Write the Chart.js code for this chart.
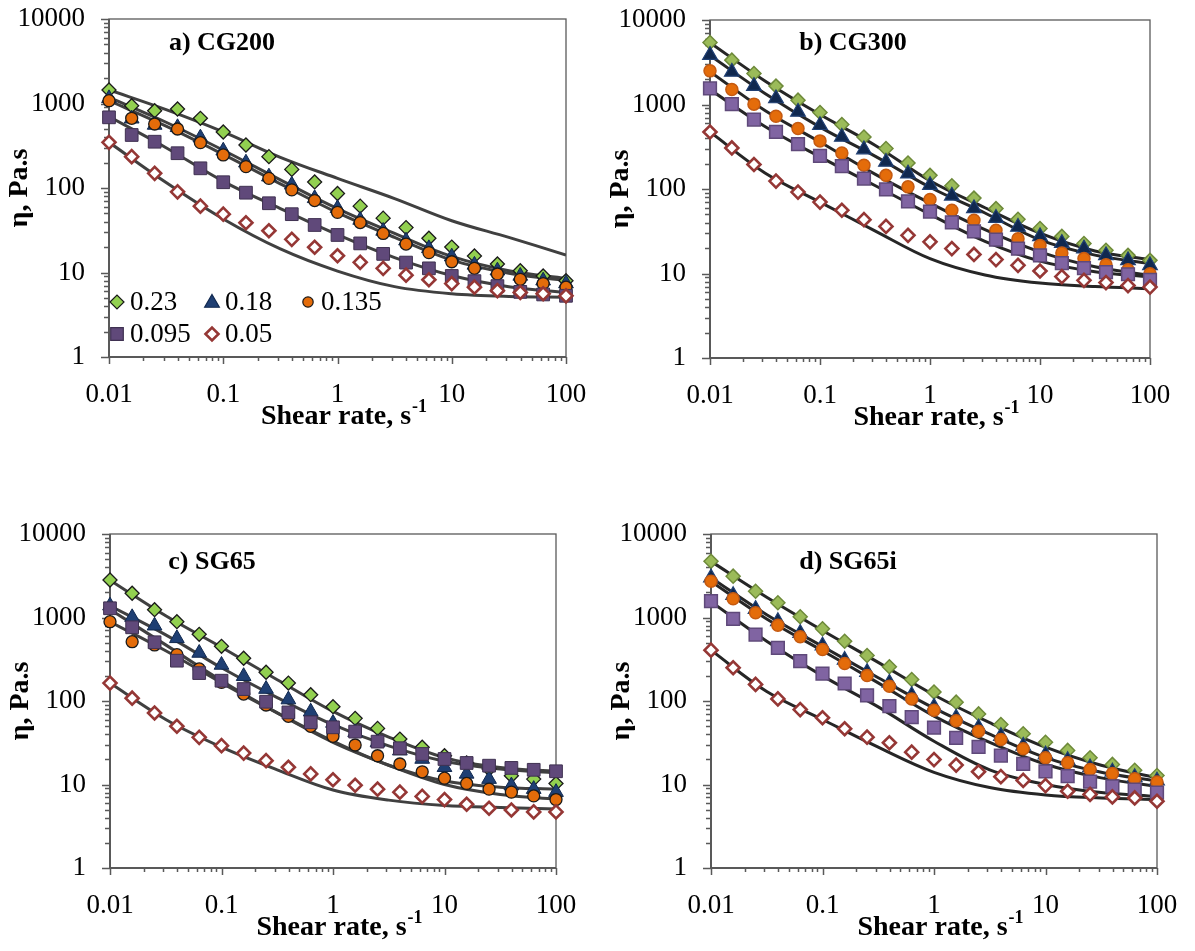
<!DOCTYPE html>
<html>
<head>
<meta charset="utf-8">
<script src="https://cdn.jsdelivr.net/npm/chart.js@4.4.0/dist/chart.umd.min.js"></script>
<style>
  body { margin: 0; background: #fff; width: 1195px; height: 951px; position: relative; overflow: hidden; }
  canvas { position: absolute; }
</style>
</head>
<body>
<canvas id="cA" width="597" height="475" style="left:0;top:0"></canvas>
<canvas id="cB" width="598" height="475" style="left:597px;top:0"></canvas>
<canvas id="cC" width="597" height="436" style="left:0;top:515px"></canvas>
<canvas id="cD" width="598" height="436" style="left:597px;top:515px"></canvas>
<script>
// shear rates of the measured points (5 per decade) and of the fitted curves
const shearRate = [0.01, 0.0158, 0.0251, 0.0398, 0.0631, 0.1, 0.158, 0.251, 0.398, 0.631,
  1, 1.58, 2.51, 3.98, 6.31, 10, 15.8, 25.1, 39.8, 63.1, 100];
const fitRate = [0.01, 0.0316, 0.1, 0.316, 1, 3.16, 10, 31.6, 100];
const concentrations = ['0.23', '0.18', '0.135', '0.095', '0.05'];
const xTicks = [0.01, 0.1, 1, 10, 100];
const yTicks = [1, 10, 100, 1000, 10000];

// viscosity, Pa.s  -- rows follow concentrations
const etaCG200 = [
  [1445, 942, 822, 861, 668, 460, 323, 235, 166, 118, 86, 61, 44, 34, 25.4, 20, 15.7, 12.6, 10.5, 9.1, 8.0],
  [1150, 660, 557, 523, 394, 276, 199, 136, 109, 75.5, 57.5, 41.8, 31, 23.8, 19.3, 15.4, 12.3, 10.5, 9.1, 8.0, 7.4],
  [1080, 668, 572, 499, 344, 246, 179, 130, 95, 71, 51.5, 39, 29, 21.7, 17.2, 13.4, 11.2, 9.6, 8.3, 7.4, 6.7],
  [686, 424, 353, 258, 171, 117, 88, 66, 49, 36.5, 27.8, 22.1, 16.6, 13.1, 11.2, 9.1, 7.9, 6.9, 5.9, 5.5, 5.3],
  [347, 235, 149, 90, 61, 49, 38.8, 31.2, 24.7, 19.9, 15.8, 13.2, 11.2, 9.3, 8.2, 7.4, 6.7, 6.1, 5.8, 5.6, 5.3]
];
const fitCG200 = [
  [1445, 845, 461, 231, 130, 75, 41, 26, 16.1],
  [1180, 600, 280, 125, 57, 29, 15.5, 10.5, 8.5],
  [1080, 540, 250, 112, 51, 26, 14, 9.8, 8.0],
  [700, 300, 120, 57, 28, 15, 9.2, 6.8, 5.8],
  [347, 116, 43, 19, 10.4, 6.8, 5.6, 5.2, 5.1]
];

const etaCG300 = [
  [5420, 3350, 2330, 1650, 1125, 804, 579, 413, 301, 203, 145, 109, 78, 58.6, 43.8, 34, 27.5, 22.6, 18.8, 16.4, 14.3],
  [3840, 2430, 1650, 1178, 817, 568, 413, 293, 209, 152, 111, 83, 59, 45.3, 35.5, 27.5, 22.9, 19.7, 16.4, 14.3, 12.5],
  [2500, 1505, 1010, 727, 520, 371, 267, 191, 145, 106, 75, 56, 42.6, 32.4, 25.8, 21.5, 17.5, 15, 12.7, 11.1, 9.95],
  [1548, 1010, 664, 473, 339, 246, 186, 133, 99, 71.5, 54, 40.3, 31.6, 25.1, 19.7, 16.4, 13.3, 11.6, 10.4, 9.8, 8.4],
  [473, 306, 195, 124, 92, 70, 56, 43.4, 36.1, 28.3, 23.7, 19.7, 16.8, 14.6, 12.5, 10.7, 9.2, 8.3, 7.8, 7.2, 6.9]
];
const fitCG300 = [
  [5400, 1900, 760, 330, 125, 60, 30, 18.5, 14.6],
  [3800, 1350, 540, 245, 105, 52, 25, 16.5, 13.1],
  [2450, 850, 360, 150, 68, 33, 18, 12, 9.5],
  [1500, 550, 240, 110, 50, 24, 14, 10.5, 9.1],
  [473, 155, 70, 32, 15, 9.6, 7.7, 7.0, 6.6]
];

const etaSG65 = [
  [2810, 1950, 1240, 891, 629, 452, 325, 221, 164, 119, 85.5, 62, 47, 35, 27.9, 22.1, 18.1, 15.3, 12.7, 11.6, 10.3],
  [1385, 1005, 797, 563, 376, 270, 198, 139, 104, 74.5, 54.5, 42.2, 32, 25.4, 20.2, 16.1, 13.4, 11.6, 9.7, 8.8, 8.1],
  [891, 513, 469, 359, 242, 167, 121, 89.6, 65.6, 49.8, 37.8, 29.7, 22.1, 17.6, 14.2, 11.9, 10.3, 8.8, 8.1, 7.3, 6.6],
  [1290, 763, 505, 304, 216, 175, 139, 98, 73, 55.6, 48.4, 43, 32.6, 27.2, 23.2, 20.2, 18.1, 16.8, 15.8, 15, 14.4],
  [164, 108, 71.8, 49.8, 36.7, 29.2, 23.8, 19.3, 16.1, 13.4, 11.4, 9.8, 8.8, 8.1, 7.2, 6.6, 5.8, 5.2, 4.95, 4.7, 4.7]
];
const fitSG65 = [
  [2800, 1050, 440, 180, 75, 37, 21, 16, 14.4],
  [1380, 620, 250, 110, 52, 29, 19, 15.3, 13.8],
  [890, 400, 165, 72, 33, 17, 11, 9.3, 8.8],
  [1250, 470, 175, 72, 32, 17, 10, 7.6, 6.7],
  [164, 60, 28, 15, 8.6, 6.5, 5.6, 5.3, 5.1]
];

const etaSG65i = [
  [4720, 3125, 2065, 1500, 1020, 732, 520, 351, 257, 181, 128, 96.8, 70, 52.3, 40.5, 32.1, 25.6, 20.9, 17.4, 14.8, 12.8],
  [3000, 1850, 1260, 900, 650, 460, 310, 222, 165, 117, 85, 63, 48, 38, 29, 22.8, 19.5, 16, 14.2, 12.2, 11.1],
  [2720, 1675, 1138, 809, 587, 414, 281, 202, 150, 106, 77.3, 58, 43.5, 34.6, 26.8, 20.9, 18.2, 15.1, 13.5, 11.7, 10.7],
  [1567, 964, 625, 434, 300, 213, 162, 117, 86.7, 64, 48, 36.2, 28.2, 22.2, 17.7, 14.4, 12.6, 10.8, 9.5, 8.7, 8.0],
  [406, 250, 158, 106, 79, 63, 46.5, 36.9, 31.6, 24.4, 19.9, 17.1, 14.2, 12.4, 11.2, 9.7, 8.3, 7.6, 7.1, 6.9, 6.3]
];
const fitSG65i = [
  [4700, 1750, 700, 290, 118, 55, 28, 17, 12],
  [3000, 1080, 450, 190, 82, 40, 21, 14, 11],
  [2700, 960, 400, 165, 66, 32, 17.5, 12, 9.5],
  [1550, 520, 200, 85, 33, 15, 10, 8, 7.2],
  [406, 130, 60, 28, 14, 9.2, 7.5, 6.9, 6.6]
];

const FONT = "'Liberation Serif', 'Times New Roman', serif";
const shapes = ['rectRot', 'triangle', 'circle', 'rect', 'rectRot'];
const radii = [7, 8.5, 6, 9, 6.5];

// two marker looks: a/c (dark outlines) and b/d (excel style outlines)
const lookDark = {
  fill: ['#92D050', '#1F3F73', '#E46C0A', '#60497A', '#FFFFFF'],
  edge: ['#1A1A1A', '#10284F', '#1A1A1A', '#3F3151', '#953735'],
  edgeW: [1.3, 1, 1.3, 1, 2.6],
  line: '#404040'
};
const lookLight = {
  fill: ['#9BBB59', '#10284F', '#E46C0A', '#8064A2', '#FFFFFF'],
  edge: ['#6E8A3A', '#1F3F73', '#C55A11', '#5F497A', '#953735'],
  edgeW: [1.5, 1.2, 1.5, 1.5, 2.6],
  line: '#262626'
};

function drawMark(ctx, kind, x, y, r, fill, stroke, lw) {
  ctx.beginPath();
  if (kind === 'rectRot') {
    ctx.moveTo(x - r, y); ctx.lineTo(x, y - r); ctx.lineTo(x + r, y); ctx.lineTo(x, y + r); ctx.closePath();
  } else if (kind === 'triangle') {
    ctx.moveTo(x, y - r); ctx.lineTo(x + r * 0.866, y + r / 2); ctx.lineTo(x - r * 0.866, y + r / 2); ctx.closePath();
  } else if (kind === 'circle') {
    ctx.arc(x, y, r, 0, Math.PI * 2);
  } else {
    ctx.rect(x - r, y - r, 2 * r, 2 * r);
  }
  ctx.fillStyle = fill; ctx.fill();
  ctx.lineWidth = lw; ctx.strokeStyle = stroke; ctx.stroke();
}

// axes frame + major/minor tick marks, drawn under the markers
const frame = {
  id: 'frame',
  beforeDatasetsDraw(chart) {
    const {ctx, chartArea: ca, scales: {x, y}} = chart;
    ctx.save();
    ctx.strokeStyle = '#595959';
    ctx.lineWidth = 1.3;
    ctx.strokeRect(ca.left, ca.top, ca.right - ca.left, ca.bottom - ca.top);
    ctx.lineWidth = 2;
    ctx.beginPath();
    ctx.moveTo(ca.left, ca.top); ctx.lineTo(ca.left, ca.bottom); ctx.lineTo(ca.right, ca.bottom);
    ctx.stroke();
    ctx.lineWidth = 1.5;
    ctx.beginPath();
    for (let e = -2; e <= 2; e++) {
      for (let k = 1; k <= 9; k++) {
        const v = k * Math.pow(10, e);
        if (v > 100.001) break;
        const px = Math.round(x.getPixelForValue(v)) + 0.5;
        ctx.moveTo(px, ca.bottom); ctx.lineTo(px, ca.bottom + (k === 1 ? 7 : 4));
      }
    }
    for (let e = 0; e <= 4; e++) {
      for (let k = 1; k <= 9; k++) {
        const v = k * Math.pow(10, e);
        if (v > 10000.01) break;
        const py = Math.round(y.getPixelForValue(v)) + 0.5;
        ctx.moveTo(ca.left, py); ctx.lineTo(ca.left - (k === 1 ? 8 : 5), py);
      }
    }
    ctx.stroke();
    ctx.restore();
  }
};

// titles, panel label and (panel a) the legend
const texts = {
  id: 'texts',
  afterDraw(chart, args, o) {
    const {ctx, chartArea: ca} = chart;
    ctx.save();
    ctx.fillStyle = '#000';
    // panel label
    ctx.font = 'bold 26px ' + FONT;
    ctx.textAlign = 'center'; ctx.textBaseline = 'middle';
    ctx.fillText(o.label, ca.left + o.labelAt[0], ca.top + o.labelAt[1]);
    // x title with superscript
    const main = 'Shear rate, s', sup = '-1';
    ctx.font = 'bold 28px ' + FONT;
    const wMain = ctx.measureText(main).width;
    ctx.font = 'bold 18px ' + FONT;
    const wSup = ctx.measureText(sup).width;
    const cx = (ca.left + ca.right) / 2 + 6, ty = ca.bottom + 60;
    const x0 = cx - (wMain + wSup) / 2;
    ctx.textAlign = 'left';
    ctx.font = 'bold 28px ' + FONT;
    ctx.fillText(main, x0, ty);
    ctx.font = 'bold 18px ' + FONT;
    ctx.fillText(sup, x0 + wMain + 1, ty - 10);
    // y title
    ctx.save();
    ctx.translate(ca.left - 89, (ca.top + ca.bottom) / 2);
    ctx.rotate(-Math.PI / 2);
    ctx.textAlign = 'center';
    ctx.font = 'bold 28px ' + FONT;
    ctx.fillText('\u03B7, Pa.s', 0, 0);
    ctx.restore();
    // legend
    if (o.legend) {
      const look = o.look;
      const spots = [[8, 283], [103, 283], [199, 283], [8, 315], [103, 315]];
      const lr = [7, 8.5, 5.2, 6.3, 6.5];
      ctx.font = '27px ' + FONT;
      ctx.textAlign = 'left';
      concentrations.forEach((c, i) => {
        const mx = ca.left + spots[i][0], my = ca.top + spots[i][1];
        drawMark(ctx, shapes[i], mx, my + (i === 1 ? 1 : 0), lr[i], look.fill[i], look.edge[i], i === 4 ? 2.6 : 1.2);
        ctx.fillStyle = '#000';
        ctx.fillText(c, mx + 13, my + 1);
      });
    }
    ctx.restore();
  }
};

const panelDefs = [
  {canvas: 'cA', label: 'a) CG200', pts: etaCG200, fit: fitCG200, look: lookDark,
   left: 109, right: 566, top: 19, bottom: 357, labelAt: [113, 24], legend: true},
  {canvas: 'cB', label: 'b) CG300', pts: etaCG300, fit: fitCG300, look: lookLight,
   left: 113, right: 553, top: 20, bottom: 358, labelAt: [143, 23], legend: false},
  {canvas: 'cC', label: 'c) SG65', pts: etaSG65, fit: fitSG65, look: lookDark,
   left: 110, right: 556, top: 19, bottom: 353, labelAt: [102, 28], legend: false},
  {canvas: 'cD', label: 'd) SG65i', pts: etaSG65i, fit: fitSG65i, look: lookLight,
   left: 114, right: 560, top: 19, bottom: 353, labelAt: [137, 28], legend: false}
];

panelDefs.forEach(p => {
  const el = document.getElementById(p.canvas);
  const datasets = [];
  p.fit.forEach((row, i) => {
    datasets.push({
      label: 'fit ' + concentrations[i],
      data: fitRate.map((r, j) => ({x: r, y: row[j]})),
      showLine: true,
      pointRadius: 0,
      borderColor: p.look.line,
      borderWidth: 3,
      tension: 0.35,
      order: 20
    });
  });
  p.pts.forEach((row, i) => {
    datasets.push({
      label: concentrations[i],
      data: shearRate.map((r, j) => ({x: r, y: row[j]})),
      showLine: false,
      pointStyle: shapes[i],
      pointRadius: radii[i],
      backgroundColor: p.look.fill[i],
      borderColor: p.look.edge[i],
      pointBorderWidth: p.look.edgeW[i],
      clip: false,
      order: 10 - i
    });
  });

  new Chart(el, {
    type: 'scatter',
    data: {datasets},
    options: {
      responsive: false,
      animation: false,
      layout: {autoPadding: false, padding: {left: 0, top: p.top, right: el.width - p.right, bottom: 0}},
      plugins: {
        legend: {display: false},
        tooltip: {enabled: false},
        texts: {label: p.label, labelAt: p.labelAt, legend: p.legend, look: p.look}
      },
      scales: {
        x: {
          type: 'logarithmic', min: 0.01, max: 100,
          grid: {display: false, drawTicks: false},
          border: {display: false},
          afterBuildTicks: s => { s.ticks = xTicks.map(v => ({value: v})); },
          afterFit: s => { s.height = el.height - p.bottom; s.paddingLeft = 0; s.paddingRight = 0; },
          ticks: {autoSkip: false, maxRotation: 0, padding: 22, color: '#000',
                  font: {family: FONT, size: 27}, callback: v => String(v)}
        },
        y: {
          type: 'logarithmic', min: 1, max: 10000,
          grid: {display: false, drawTicks: false},
          border: {display: false},
          afterBuildTicks: s => { s.ticks = yTicks.map(v => ({value: v})); },
          afterFit: s => { s.width = p.left; s.paddingTop = 0; s.paddingBottom = 0; },
          ticks: {autoSkip: false, padding: 24, color: '#000',
                  font: {family: FONT, size: 27}, callback: v => String(v)}
        }
      }
    },
    plugins: [frame, texts]
  });
});
</script>
</body>
</html>
